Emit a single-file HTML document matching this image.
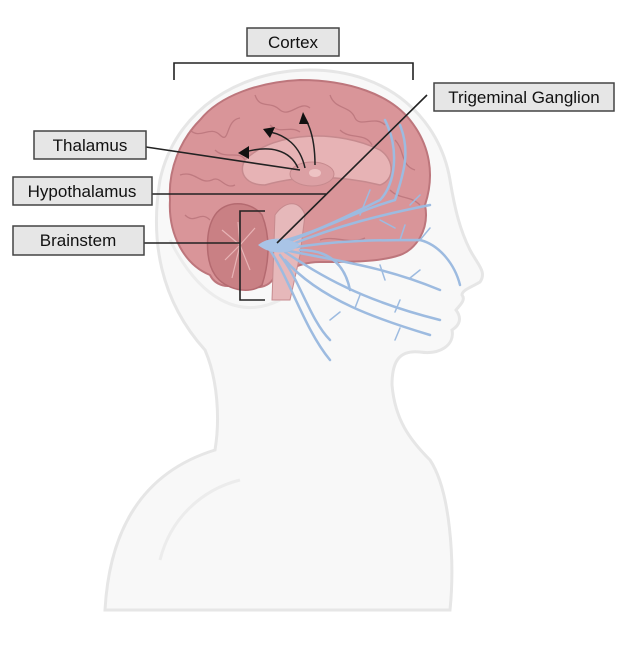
<!DOCTYPE html>
<html><head><style>
html,body{margin:0;padding:0;background:#fff;}
svg{display:block;}
text{font-family:"Liberation Sans",sans-serif;font-size:17px;fill:#111;}
</style></head><body>
<svg width="641" height="647" viewBox="0 0 641 647">
<!-- head / body silhouette -->
<path d="M105,610 C110,520 150,470 215,450 C220,420 218,380 205,350 C160,300 150,240 160,180 C175,110 240,70 310,70 C390,70 440,120 450,180 C455,210 460,230 470,250 C478,265 487,272 480,282 C470,288 462,290 462,295 C466,300 460,305 456,310 C462,318 460,325 452,330 C455,345 440,355 420,352 C400,350 392,360 392,385 C395,420 410,440 430,460 C450,490 455,560 450,610 Z" fill="#f8f8f8" stroke="#e6e6e6" stroke-width="3"/>
<path d="M170,240 C200,300 240,320 280,300" fill="none" stroke="#ececec" stroke-width="3"/>
<path d="M160,560 C170,520 200,490 240,480" fill="none" stroke="#ececec" stroke-width="3"/>
<!-- brain -->
<path d="M210,275 C185,265 168,235 170,200 C168,170 180,140 200,120 C220,95 260,82 300,80 C350,80 390,95 410,120 C430,145 435,175 425,205 C430,230 415,250 400,255 C380,262 350,262 320,262 C300,262 290,270 275,275 C270,290 250,290 240,282 C228,290 215,285 210,275 Z" fill="#d99599" stroke="#bd767c" stroke-width="2"/>
<g fill="none" stroke="#bf7a80" stroke-width="1.3">
<path d="M190,130 C200,140 210,125 220,135 C230,145 225,120 240,118"/>
<path d="M255,95 C260,110 270,100 280,110 C290,118 300,100 310,108"/>
<path d="M330,95 C335,110 350,105 355,118 C360,128 375,115 385,125"/>
<path d="M395,140 C405,150 400,165 415,170"/>
<path d="M180,175 C195,170 200,185 212,180 C220,175 225,190 235,185"/>
<path d="M185,215 C195,225 200,210 210,220"/>
<path d="M390,190 C400,200 410,195 420,205"/>
<path d="M215,150 C225,160 240,150 245,160"/>
<path d="M270,125 C280,135 290,125 300,132"/>
<path d="M340,130 C350,140 365,132 372,145"/>
<path d="M320,240 C335,235 350,245 365,238"/>
</g>
<path d="M215,215 C225,200 250,200 262,215 C270,235 270,260 262,285 C250,295 225,290 215,275 C205,260 205,230 215,215 Z" fill="#c98084" stroke="#b46a70" stroke-width="1.5"/>
<g fill="none" stroke="#e7b3b5" stroke-width="1.2">
<path d="M240,245 L222,230 M240,245 L225,260 M240,245 L238,222 M240,245 L255,228 M240,245 L250,270 M240,245 L232,278"/>
</g>
<path d="M245,160 C275,130 340,130 380,150 C395,160 395,180 380,185 C340,175 300,175 265,185 C245,185 238,172 245,160 Z" fill="#e7b3b5" stroke="#c68a8e" stroke-width="1.5"/>
<ellipse cx="312" cy="174" rx="22" ry="12" fill="#dca0a4" stroke="#c68a8e"/>
<ellipse cx="315" cy="173" rx="6" ry="4" fill="#eec3c4"/>
<path d="M272,300 L275,215 C285,200 300,200 305,215 L300,255 L290,300 Z" fill="#e6b8ba" stroke="#c68a8e"/>
<!-- nerves -->
<g fill="none" stroke="#9dbbe0" stroke-width="2.5" stroke-linecap="round">
<path d="M262,245 C300,240 340,220 380,200 C395,185 400,150 385,120"/>
<path d="M280,245 C320,230 360,210 395,200 C405,170 410,150 400,125"/>
<path d="M290,245 C340,225 380,215 430,205"/>
<path d="M290,248 C340,240 380,240 420,240 C440,245 455,265 460,285"/>
<path d="M285,250 C330,260 380,265 440,290"/>
<path d="M285,252 C320,275 360,300 440,320"/>
<path d="M280,255 C300,280 310,320 330,340"/>
<path d="M285,260 C320,300 380,320 430,335"/>
<path d="M270,250 C290,280 305,330 330,360"/>
<path d="M300,250 C330,250 345,265 350,290"/>
</g>
<g fill="none" stroke="#9dbbe0" stroke-width="1.5" stroke-linecap="round">
<path d="M360,215 L370,190 M400,240 L405,225 M420,240 L430,228 M380,265 L385,280 M410,278 L420,270 M360,295 L355,308 M395,312 L400,300 M330,320 L340,312 M400,328 L395,340 M410,205 L420,195 M380,220 L395,228"/>
</g>
<path d="M258,245 C270,235 290,238 300,245 C290,255 270,255 258,245 Z" fill="#a9c4e6"/>
<!-- arrows -->
<g fill="none" stroke="#222" stroke-width="1.5">
<path d="M298,168 C290,150 270,145 245,152"/>
<path d="M305,168 C300,145 285,135 270,132"/>
<path d="M315,165 C315,145 312,130 305,118"/>
</g>
<polygon points="238,153 249,146 249,159" fill="#111"/>
<polygon points="263,129 275,127 270,138" fill="#111"/>
<polygon points="303,112 309,124 299,124" fill="#111"/>
<!-- leader lines -->
<g fill="none" stroke="#222" stroke-width="1.6">
<path d="M174,80 V63 H413 V80"/>
<line x1="427" y1="95" x2="277" y2="243"/>
<line x1="146" y1="147" x2="300" y2="170"/>
<line x1="152" y1="194" x2="326" y2="194"/>
<line x1="144" y1="243" x2="240" y2="243"/>
<path d="M265,211 H240 V300 H265"/>
</g>
<!-- label boxes -->
<g fill="#e6e6e6" stroke="#444" stroke-width="1.5">
<rect x="247" y="28" width="92" height="28"/>
<rect x="434" y="83" width="180" height="28"/>
<rect x="34" y="131" width="112" height="28"/>
<rect x="13" y="177" width="139" height="28"/>
<rect x="13" y="226" width="131" height="29"/>
</g>
<text x="293" y="48" text-anchor="middle">Cortex</text>
<text x="524" y="103" text-anchor="middle">Trigeminal Ganglion</text>
<text x="90" y="151" text-anchor="middle">Thalamus</text>
<text x="82" y="197" text-anchor="middle">Hypothalamus</text>
<text x="78" y="246" text-anchor="middle">Brainstem</text>
</svg>
</body></html>
